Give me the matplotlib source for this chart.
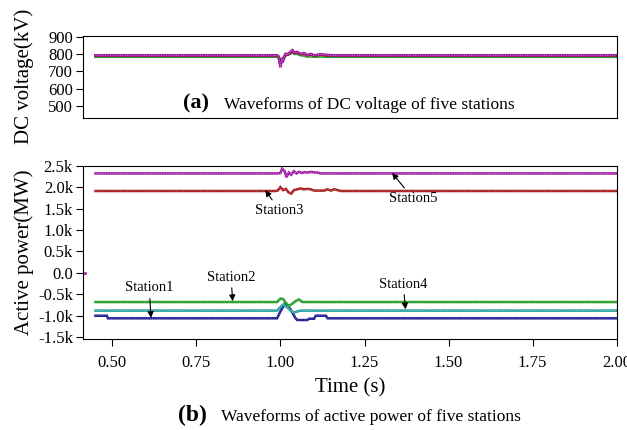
import matplotlib
matplotlib.use("Agg")
import matplotlib.pyplot as plt

plt.rcParams['font.family'] = ['Liberation Serif', 'DejaVu Serif']

# DC voltage (kV), all stations share the same time points
volt_t = [0.45, 0.99, 0.995, 1.0, 1.004, 1.008, 1.015, 1.022, 1.03, 1.036, 1.042,
          1.05, 1.06, 1.07, 1.08, 1.09, 1.10, 1.12, 1.14, 1.16, 2.0]
vdc1 = [789, 789, 782, 735, 765, 768, 796, 798, 806, 814, 804, 806, 796, 799, 790, 794, 789, 793, 790, 789, 789]
vdc2 = [783, 783, 778, 745, 770, 775, 790, 795, 802, 808, 800, 800, 792, 790, 784, 786, 783, 785, 783, 783, 783]
vdc3 = [790, 790, 782, 740, 765, 770, 795, 800, 808, 815, 805, 808, 798, 800, 792, 796, 790, 795, 790, 790, 790]
vdc4 = [788, 788, 781, 738, 768, 772, 793, 797, 804, 811, 802, 804, 795, 797, 789, 792, 788, 791, 788, 788, 788]
vdc5 = [792, 792, 785, 722, 770, 760, 800, 795, 812, 822, 808, 812, 800, 805, 793, 800, 792, 798, 794, 792, 792]

# active power (MW)
p1_t = [0.45, 0.484, 0.487, 0.99, 1.0, 1.015, 1.03, 1.045, 1.05, 1.08, 1.085, 1.10, 1.105, 1.135, 1.14, 2.0]
p1 = [-1000, -1000, -1060, -1060, -900, -700, -850, -1060, -1100, -1100, -1070, -1070, -1000, -1000, -1060, -1060]

p2_t = [0.45, 0.99, 1.0, 1.008, 1.016, 1.025, 1.035, 1.045, 1.055, 1.065, 2.0]
p2 = [-680, -680, -600, -610, -700, -770, -720, -660, -620, -680, -680]

p3_t = [0.45, 0.985, 0.992, 1.0, 1.008, 1.016, 1.024, 1.032, 1.04, 1.05, 1.06, 1.07,
        1.08, 1.09, 1.10, 1.13, 1.14, 1.15, 1.16, 1.17, 1.18, 2.0]
p3 = [1910, 1910, 1920, 2000, 1930, 1960, 1880, 1850, 1930, 1950, 1970, 1950,
      1960, 1950, 1920, 1920, 1950, 1920, 1950, 1930, 1910, 1910]

p4_t = [0.45, 0.99, 1.0, 1.008, 1.02, 1.03, 1.04, 1.05, 1.06, 2.0]
p4 = [-880, -880, -800, -740, -800, -880, -930, -900, -880, -880]

p5_t = [0.45, 0.99, 1.0, 1.005, 1.012, 1.018, 1.025, 1.032, 1.04, 1.048, 1.056,
        1.064, 1.072, 1.08, 1.09, 1.10, 1.11, 1.12, 2.0]
p5 = [2320, 2320, 2330, 2430, 2380, 2230, 2340, 2290, 2370, 2320, 2360,
      2330, 2350, 2340, 2355, 2345, 2340, 2320, 2320]
p5_pre_t = [0.412, 0.42]
p5_pre = [0, 0]

power_ticks = [-1500, -1000, -500, 0, 500, 1000, 1500, 2000, 2500]
power_labels = ['-1.5k', '-1.0k', '-0.5k', '0.0', '0.5k', '1.0k', '1.5k', '2.0k', '2.5k']
time_ticks = [0.5, 0.75, 1.0, 1.25, 1.5, 1.75, 2.0]
time_labels = ['0.50', '0.75', '1.00', '1.25', '1.50', '1.75', '2.00']

# station -> (line colour, dot colour)
colors = {
    1: ('#1c1c8c', '#6a6ad8'),
    2: ('#1e9a1e', '#7fd07f'),
    3: ('#a01818', '#e07070'),
    4: ('#1f9a9a', '#80d0d0'),
    5: ('#9a109a', '#e090e0'),
}


def draw(ax, t, y, st):
    c, d = colors[st]
    ax.plot(t, y, color=c, lw=1.8, solid_joinstyle='miter')
    ax.plot(t, y, color=d, lw=0.7, ls=(0, (1, 1.5)))


fig = plt.figure(figsize=(6.27, 4.30), dpi=100)
ax1 = fig.add_axes([0.1319, 0.7256, 0.8517, 0.1914])
ax2 = fig.add_axes([0.1319, 0.2109, 0.8517, 0.4037])

# (a) DC voltage
for st, v in [(1, vdc1), (4, vdc4), (2, vdc2), (3, vdc3), (5, vdc5)]:
    draw(ax1, volt_t, v, st)
ax1.set_xlim(0.412, 2.0)
ax1.set_ylim(430, 905)
ax1.set_xticks([])
ax1.set_yticks([500, 600, 700, 800, 900])
ax1.tick_params(axis='y', direction='out', length=5, labelsize=12, pad=2)
ax1.set_ylabel('DC voltage(kV)', fontsize=15)
ax1.yaxis.set_label_coords(-0.092, 0.5)
ax1.text(0.188, 0.11, '(a)', transform=ax1.transAxes, fontsize=16,
         fontweight='bold', va='baseline', ha='left')
ax1.text(0.264, 0.11, 'Waveforms of DC voltage of five stations', transform=ax1.transAxes,
         fontsize=12.5, va='baseline', ha='left')

# (b) active power
draw(ax2, p5_pre_t, p5_pre, 5)
draw(ax2, p1_t, p1, 1)
draw(ax2, p4_t, p4, 4)
draw(ax2, p2_t, p2, 2)
draw(ax2, p3_t, p3, 3)
draw(ax2, p5_t, p5, 5)
ax2.set_xlim(0.412, 2.0)
ax2.set_ylim(-1550, 2500)
ax2.set_yticks(power_ticks)
ax2.set_yticklabels(power_labels)
ax2.set_xticks(time_ticks)
ax2.set_xticklabels(time_labels)
ax2.tick_params(direction='out', length=5, labelsize=12)
ax2.tick_params(axis='x', pad=6)
ax2.tick_params(axis='y', pad=2)
ax2.set_ylabel('Active power(MW)', fontsize=15)
ax2.yaxis.set_label_coords(-0.092, 0.5)
ax2.set_xlabel('Time (s)', fontsize=15)
ax2.xaxis.set_label_coords(0.5, -0.225)

arrow = dict(arrowstyle='-|>', color='black', lw=0.8, mutation_scale=9,
             shrinkA=1, shrinkB=0)
notes = [
    ('Station1', (0.615, -1050), (0.61, -350)),
    ('Station2', (0.858, -660), (0.853, -100)),
    ('Station3', (0.955, 1930), (0.997, 1460)),
    ('Station4', (1.372, -850), (1.365, -260)),
    ('Station5', (1.332, 2330), (1.394, 1740)),
]
for name, xy, xytext in notes:
    ax2.annotate(name, xy=xy, xytext=xytext, fontsize=10.5, ha='center', va='center',
                 arrowprops=arrow)

fig.text(0.284, 0.021, '(b)', fontsize=17, fontweight='bold', va='baseline', ha='left')
fig.text(0.352, 0.021, 'Waveforms of active power of five stations', fontsize=12.5,
         va='baseline', ha='left')

fig.savefig('out.png', dpi=100)
plt.close(fig)
